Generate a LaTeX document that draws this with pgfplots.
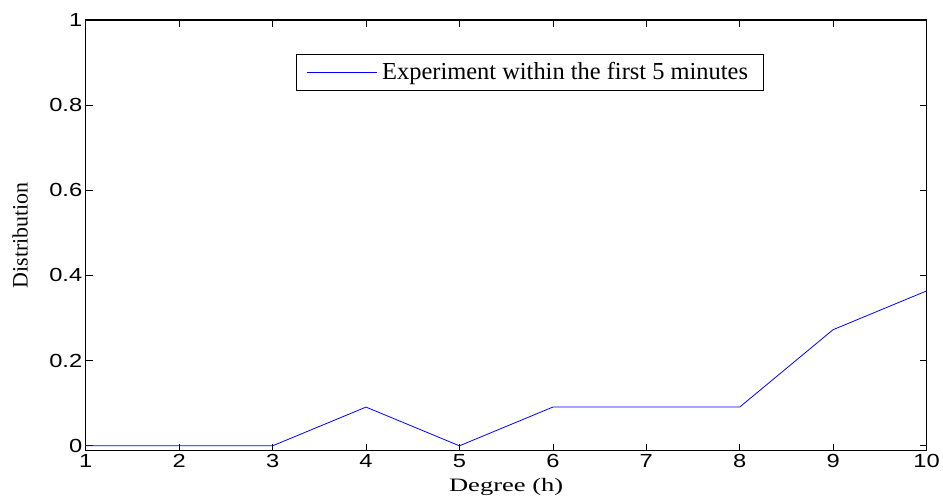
\documentclass[border=0pt]{standalone}
\usepackage{fontspec}
\setmainfont{Liberation Serif}
\newfontfamily\helv{Liberation Sans}
\usepackage{graphicx}
\usepackage{pgfplots}
\pgfplotsset{compat=1.18}
\begin{document}
\begin{tikzpicture}
\begin{axis}[
  scale only axis, width=843pt, height=432pt,
  xmin=1, xmax=10, ymin=-0.0117, ymax=1,
  xtick={1,...,10}, ytick={0,0.2,0.4,0.6,0.8,1},
  tick align=inside, tick pos=both,
  major tick length=7pt,
  axis line style={line width=1.3pt},
  tick style={black, line width=0.7pt},
  /pgf/number format/assume math mode=true,
  tick label style={font=\helv\fontsize{19}{21}\selectfont},
  xticklabel={\scalebox{1.25}[1]{\pgfmathprintnumber{\tick}}},
  yticklabel={\scalebox{1.25}[1]{\pgfmathprintnumber{\tick}}},
  xlabel={\scalebox{1.4}[1]{Degree (h)}}, ylabel={Distribution},
  xlabel style={font=\fontsize{19}{21}\selectfont,
    at={(axis description cs:0.5,-0.095)}, anchor=base},
  ylabel style={font=\fontsize{22}{24}\selectfont,
    at={(axis description cs:-0.078,0.5)}, anchor=center},
  legend style={at={(axis description cs:0.2503,0.9213)}, anchor=north west,
    draw=black, line width=0.8pt, font=\fontsize{24.5}{26}\selectfont,
    inner xsep=10pt, inner ysep=4pt, nodes={inner xsep=5pt, inner ysep=4.5pt}},
  legend cell align=left,
  legend image code/.code={\draw[blue, line width=0.8pt] (0pt,0pt) -- (70pt,0pt);},
]
\addplot[blue, line width=0.8pt] coordinates {
  (1,0) (2,0) (3,0) (4,0.0909) (5,0) (6,0.0909) (7,0.0909) (8,0.0909) (9,0.2727) (10,0.3636)};
\addlegendentry{Experiment within the first 5 minutes}
\end{axis}
\path[use as bounding box] ([shift={(-86pt,-50pt)}]current axis.south west)
  rectangle ([shift={(14pt,20pt)}]current axis.north east);
\end{tikzpicture}
\end{document}
